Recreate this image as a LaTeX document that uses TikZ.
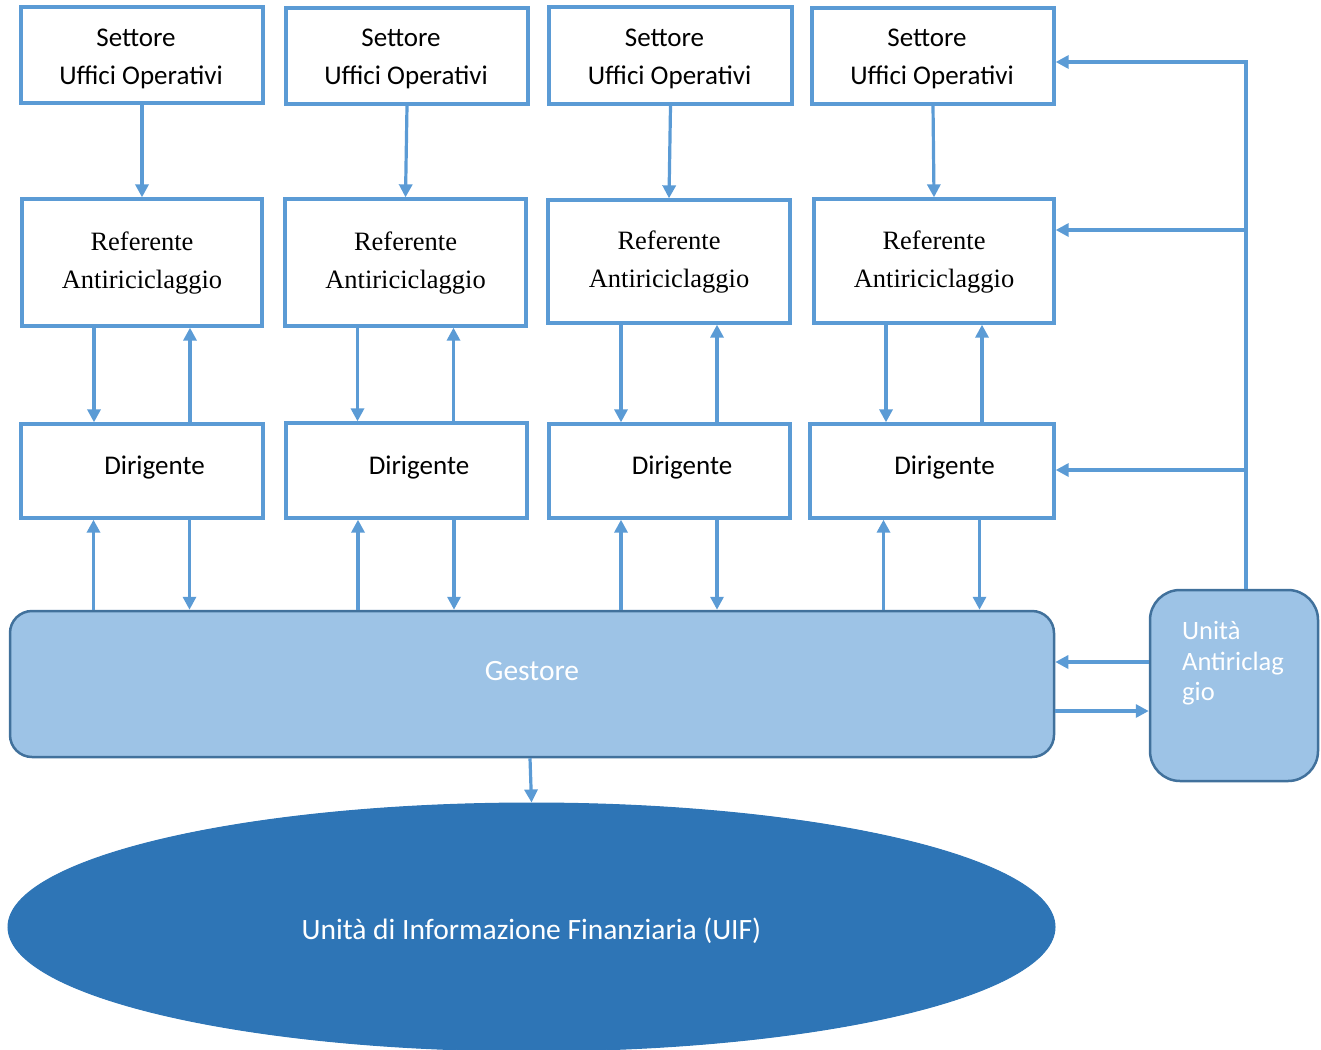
\documentclass[tikz,border=0pt]{standalone}
\usepackage{fontspec}
\setmainfont{Carlito}
\newfontfamily\timesf{Liberation Serif}
\usetikzlibrary{arrows.meta,shapes.geometric}
\definecolor{bl}{HTML}{5B9BD5}
\definecolor{lbl}{HTML}{9DC3E6}
\definecolor{dbl}{HTML}{41719C}
\definecolor{uifc}{HTML}{2E75B6}
\newcommand\twoln[3]{\raisebox{#1}[0pt][0pt]{\begin{tabular}[t]{@{}c@{}}#2\\#3\end{tabular}}}
\newcommand\oneln[2]{\raisebox{#1}[0pt][0pt]{#2}}
\begin{document}
\begin{tikzpicture}[x=1pt,y=-1pt,
  box/.style={draw=bl,line width=3.3pt,fill=white,inner sep=0pt,align=center,font=\fontsize{27}{38}\selectfont},
  refbox/.style={box,font=\timesf\fontsize{26.5}{38}\selectfont},
  arr/.style={draw=bl,line width=3.2pt,-{Triangle[length=13pt,width=13pt]}},
  ln/.style={draw=bl,line width=3.2pt}]
\useasboundingbox (0,0) rectangle (1321,1049);
% Settore
\node[box,minimum width=242pt,minimum height=96pt] (s1) at (142,55) {\twoln{9pt}{Settore\hspace*{12pt}}{Uffici Operativi\hspace*{2pt}}};
\node[box,minimum width=242pt,minimum height=96pt] (s2) at (407,56) {\twoln{9pt}{Settore\hspace*{12pt}}{Uffici Operativi\hspace*{2pt}}};
\node[box,minimum width=243pt,minimum height=97pt] (s3) at (670.5,55.5) {\twoln{9pt}{Settore\hspace*{12pt}}{Uffici Operativi\hspace*{2pt}}};
\node[box,minimum width=242pt,minimum height=96pt] (s4) at (933,56) {\twoln{9pt}{Settore\hspace*{12pt}}{Uffici Operativi\hspace*{2pt}}};
% Referente
\node[refbox,minimum width=240pt,minimum height=127pt] (r1) at (142,262.5) {\twoln{12pt}{Referente}{Antiriciclaggio}};
\node[refbox,minimum width=241pt,minimum height=127pt] (r2) at (405.5,262.5) {\twoln{12pt}{Referente}{Antiriciclaggio}};
\node[refbox,minimum width=242pt,minimum height=123pt] (r3) at (669,261.5) {\twoln{12pt}{Referente}{Antiriciclaggio}};
\node[refbox,minimum width=240pt,minimum height=124pt] (r4) at (934,261) {\twoln{12pt}{Referente}{Antiriciclaggio}};
% Dirigente
\node[box,minimum width=242pt,minimum height=94pt] (d1) at (142,471) {\oneln{-3.5pt}{\hspace*{25pt}Dirigente}};
\node[box,minimum width=241pt,minimum height=95pt] (d2) at (406.5,470.5) {\oneln{-3.5pt}{\hspace*{25pt}Dirigente}};
\node[box,minimum width=241pt,minimum height=94pt] (d3) at (669.5,471) {\oneln{-3.5pt}{\hspace*{25pt}Dirigente}};
\node[box,minimum width=244pt,minimum height=94pt] (d4) at (932,471) {\oneln{-3.5pt}{\hspace*{25pt}Dirigente}};
% Gestore
\node[draw=dbl,fill=lbl,line width=2.5pt,rounded corners=22pt,minimum width=1044pt,minimum height=146pt,inner sep=0pt,
  text=white,font=\fontsize{29.5}{32}\selectfont] (g) at (532,684) {\oneln{3.5pt}{Gestore}};
% Unita Antiriciclaggio
\node[draw=dbl,fill=lbl,line width=2.5pt,rounded corners=30pt,minimum width=168pt,minimum height=191pt,inner sep=0pt] (ua) at (1234,685.5) {};
\node[anchor=north west,text=white,align=left,inner sep=0pt,font=\fontsize{26.5}{30.5}\selectfont] (uat) at (1182,621.5) {Unità\\Antiriclag\\gio};
% UIF
\node[ellipse,draw=uifc,fill=uifc,line width=1pt,minimum width=1047pt,minimum height=248pt,inner sep=0pt,
  text=white,font=\fontsize{29.5}{32}\selectfont] (uif) at (531.5,927) {\oneln{-12.5pt}{Unità di Informazione Finanziaria (UIF)}};
% connectors in each column
\foreach \i in {1,2,3,4}{
  \draw[arr] (s\i.south) -- (r\i.north);
  \draw[arr] ([xshift=-48pt]r\i.south) -- ([xshift=-48pt]r\i.south |- d\i.north);
  \draw[arr] ([xshift=48pt]r\i.south |- d\i.north) -- ([xshift=48pt]r\i.south);
  \coordinate (dl\i) at ([xshift=-48.5pt]d\i.south);
  \coordinate (dr\i) at ([xshift=47.5pt]d\i.south);
  \draw[arr] (dl\i |- g.north) -- (dl\i);
  \draw[arr] (dr\i) -- (dr\i |- g.north);
}
% Gestore -> UIF
\draw[arr] ([xshift=-2pt]g.south) -- (uif.north);
% Gestore <-> Unita
\coordinate (ua1) at ([yshift=23.5pt]ua.west);
\coordinate (ua2) at ([yshift=-25.5pt]ua.west);
\draw[arr] (ua1) -- (g.east |- ua1);
\draw[arr] (g.east |- ua2) -- (ua2);
% feedback line
\coordinate (uan) at ([xshift=12pt]ua.north);
\coordinate (top) at (1246,62);
\coordinate (bR) at (1246,230);
\coordinate (bD) at (1246,470);
\draw[ln] (uan) -- (top);
\draw[arr] ([xshift=1.6pt]top) -- (s4.east |- top);
\draw[arr] (bR) -- (r4.east |- bR);
\draw[arr] (bD) -- (d4.east |- bD);
\end{tikzpicture}
\end{document}
